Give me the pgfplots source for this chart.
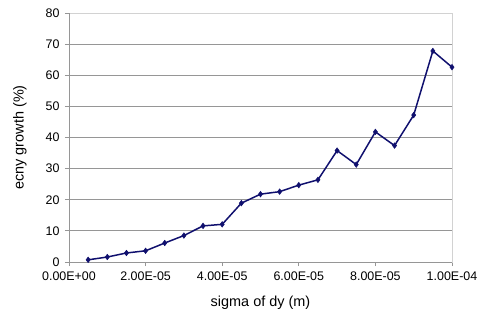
\documentclass[border=0pt]{standalone}
\usepackage{pgfplots}
\pgfplotsset{compat=1.18}
\usepackage{fontspec}
\setmainfont{Liberation Sans}
\definecolor{navyline}{RGB}{16,16,110}
\definecolor{gridgray}{RGB}{150,150,150}
\definecolor{bordergray}{RGB}{210,210,210}
\begin{document}
\begin{tikzpicture}
\useasboundingbox (-69bp,-62bp) rectangle (421bp,262bp);
\begin{axis}[
  at={(0,0)}, anchor=south west,
  scale only axis, width=383bp, height=249bp,
  xmin=0, xmax=0.0001, ymin=0, ymax=80,
  xtick={0,0.00002,0.00004,0.00006,0.00008,0.0001},
  xticklabels={0.00E+00,2.00E-05,4.00E-05,6.00E-05,8.00E-05,1.00E-04},
  ytick={0,10,...,80},
  scaled x ticks=false,
  /pgf/number format/assume math mode=true,
  tick label style={font=\fontsize{12.5}{14}\selectfont},
  label style={font=\fontsize{14.5}{16}\selectfont},
  xlabel={sigma of dy (m)},
  ylabel={ecny growth (\%)},
  xlabel style={at={(axis description cs:0.5,-0.165)}, anchor=center},
  ylabel style={at={(axis description cs:-0.128,0.5)}, anchor=center},
  ymajorgrids, grid style={gridgray, line width=0.8pt},
  axis line style={bordergray, line width=0.8pt},
  tick align=outside, xtick pos=bottom, ytick pos=left,
  major tick length=4bp,
  tick style={gridgray, line width=0.8pt},
  xticklabel style={yshift=-2bp},
  yticklabel style={xshift=-2bp},
]
\draw[gridgray, line width=0.8pt] (rel axis cs:0,1) -- (rel axis cs:0,0) -- (rel axis cs:1,0);
\addplot[navyline, line width=1.5pt, mark=diamond*, mark size=2.8bp, mark options={fill=navyline, line width=0.5pt}] coordinates {
(0.000005,0.7) (0.00001,1.6) (0.000015,2.9) (0.00002,3.6) (0.000025,6.1)
(0.00003,8.5) (0.000035,11.6) (0.00004,12.1) (0.000045,18.9) (0.00005,21.8)
(0.000055,22.6) (0.00006,24.7) (0.000065,26.4) (0.00007,35.8) (0.000075,31.3)
(0.00008,41.8) (0.000085,37.4) (0.00009,47.2) (0.000095,67.8) (0.0001,62.6)
};
\end{axis}
\end{tikzpicture}
\end{document}
